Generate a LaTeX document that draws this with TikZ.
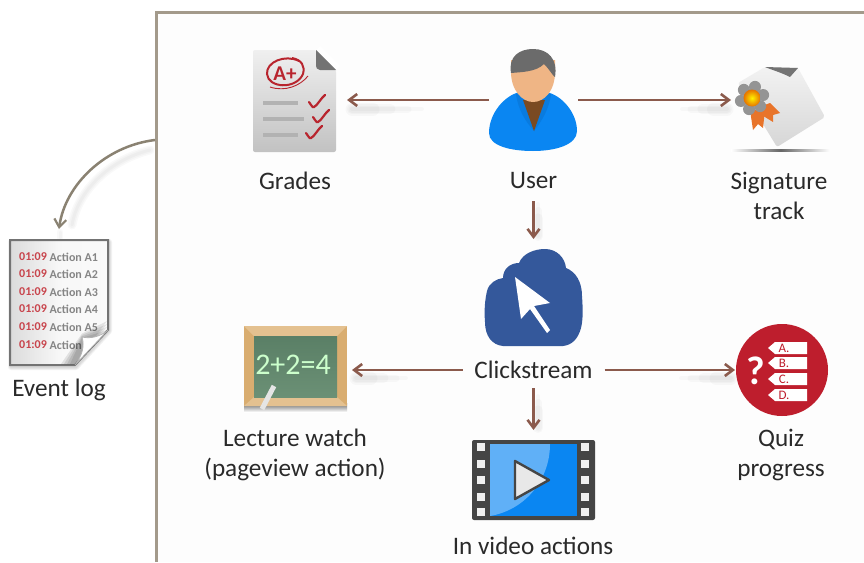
\documentclass[tikz,border=0pt]{standalone}
\usepackage{fontspec}
\setmainfont{Carlito}
\usetikzlibrary{arrows.meta}
\definecolor{framec}{HTML}{A39A8B}
\definecolor{arrowc}{HTML}{8B5A4C}
\definecolor{logarrow}{HTML}{8A8272}
\definecolor{txt}{HTML}{2A2A2A}
\definecolor{ublue}{HTML}{0A86F2}
\definecolor{cloudc}{HTML}{34589B}
\definecolor{quizred}{HTML}{BE1E2D}
\definecolor{markred}{HTML}{B8252E}
\definecolor{ribbon}{HTML}{E8742A}
\definecolor{facec}{HTML}{EFB585}
\definecolor{shirtc}{HTML}{7A4A22}
\definecolor{woodc}{HTML}{D9AD70}
\definecolor{woodl}{HTML}{E4C190}
\definecolor{boardt}{HTML}{5A7F66}
\definecolor{boardb}{HTML}{6B9075}
\definecolor{logred}{HTML}{C8444C}
\tikzset{
  iconbox/.style={inner sep=0pt,outer sep=0pt,minimum width=#1},
  lbl/.style={font=\fontsize{25.2}{30}\selectfont,text=txt,align=center,inner sep=0pt,outer sep=0pt},
  flow/.style={draw=arrowc,line width=2.9pt,-{Straight Barb[length=8pt,width=12pt,line width=2.6pt]}},
  soft/.style={draw=black,opacity=.022,line width=#1,line cap=round},
  logtext/.style={font=\fontsize{12}{13}\selectfont\bfseries,inner sep=0pt,anchor=west},
  tagtext/.style={font=\fontsize{13}{14}\selectfont,text=quizred,inner sep=0pt},
  sprocket/.style={fill=gray!12}
}
\newcommand{\softH}[3]{% tip x, y, direction*length
  \foreach \w/\f in {4pt/1,7pt/.8,10pt/.55,13pt/.3}{
    \draw[soft=\w] (#1,#2) -- ++(#3*\f,0);
  }}
\newcommand{\softV}[3]{%
  \foreach \w/\f in {4pt/1,7pt/.8,10pt/.55}{
    \draw[soft=\w] (#1,#2) -- ++(0,#3*\f);
  }}
\begin{document}
\begin{tikzpicture}[x=1pt,y=-1pt]
\useasboundingbox (0,0) rectangle (864,562);
\fill[white] (0,0) rectangle (864,562);
\fill[black!.6] (156,12) rectangle (864,562);

% ---------- invisible anchors of the icons
\node[iconbox=104pt,minimum height=104pt] (grades) at (295,100) {};
\node[iconbox=89pt,minimum height=104pt] (user) at (533.5,100) {};
\node[iconbox=98pt,minimum height=90pt] (sign) at (780,100) {};
\node[iconbox=100pt,minimum height=116pt] (cloud) at (533.5,297) {};
\node[iconbox=112pt,minimum height=90pt] (board) at (296,370) {};
\node[iconbox=94pt,minimum height=94pt] (quiz) at (782,370) {};
\node[iconbox=124pt,minimum height=100pt] (video) at (533.5,480) {};
\node[iconbox=100pt,minimum height=146pt] (eventdoc) at (59,302) {};
\coordinate (framepoint) at (155,140);

% ---------- soft shadows
\softH{352}{109}{70}
\softH{727}{109}{-45}
\softH{356}{378}{50}
\softH{731}{378}{-50}
\softV{538}{236}{-32}
\softV{538}{428}{-32}
\foreach \w in {3pt,6pt,9pt}{
  \draw[soft=\w] (72,225) .. controls (78,190) and (110,160) .. (150,150);
}
\foreach \w in {3pt,6pt}{
  \draw[soft=\w] (60,238) -- (60,232);
}

% ---------- frame
\draw[framec,line width=3pt] (864,12) -- (156,12) -- (156,562);

% ---------- event log icon
\foreach \w in {2pt,4pt,6pt}{
  \draw[black,opacity=.05,line width=\w,line join=round] (11,242) -- (109,242) -- (109,331) -- (76,367) -- (11,367) -- cycle;
}
\path[draw=black!55,line width=2pt,left color=black!14,right color=black!2,middle color=black!3]
  (10,240) -- (108,240) -- (108,330) -- (75,365) -- (10,365) -- cycle;
\foreach \n/\yy/\tl in {1/257/Action A1,2/274/Action A2,3/292/Action A3,4/309/Action A4,5/327/Action A5,6/345/Action}{
  \node[logtext,text=logred] (t\n) at (19,\yy) {01:09};
  \node[logtext,text=black!48] (a\n) at (49.5,\yy) {\tl};
}
\foreach \s in {0,3,6,9}{
  \fill[black,opacity=.09] (107,330-\s) -- (82,338-\s/2) -- (70-\s,364) -- (75,364) -- cycle;
}
\path[fill=white,draw=black!30,line width=.7pt] (108,330) .. controls (100,337) and (90,339) .. (82,337)
  .. controls (85,346) and (82,356) .. (75,365) -- cycle;

% ---------- grades icon
\path[top color=black!6,bottom color=black!24,rounded corners=2pt]
  (253,50) -- (316,50) -- (336,70) -- (336,152) -- (253,152) -- cycle;
\fill[white] (316,50) -- (336,70) -- (340,66) -- (320,46) -- cycle;
\fill[black!55] (316,50) -- (336,70) -- (320,70) .. controls (317,70) and (316,68) .. (316,64) -- cycle;
\draw[markred,line width=2pt] (299,61) .. controls (285,54) and (266,62) .. (267,74)
  .. controls (268,88) and (296,90) .. (303,74) .. controls (305,66) and (302,60) .. (292,58);
\draw[markred,line width=.9pt] (270,87) .. controls (285,92) and (300,86) .. (308,76);
\node[font=\fontsize{21}{22}\selectfont\bfseries,text=markred,inner sep=0pt] (aplus) at (285,74) {A+};
\foreach \yy/\xe in {103/298,119/304,135/298}{
  \draw[black!30,line width=3.4pt] (263,\yy) -- (\xe,\yy);
}
\foreach \xx/\yy in {309/102,313/117,306/133}{
  \draw[markred,line width=2.2pt,line cap=round] (\xx,\yy) .. controls (\xx+2,\yy+2) and (\xx+3,\yy+6) .. (\xx+5,\yy+5)
    .. controls (\xx+8,\yy+4) and (\xx+12,\yy-4) .. (\xx+16,\yy-7);
}

% ---------- user icon
\fill[ublue] (489,133) .. controls (489,113) and (505,95) .. (520,92) -- (546,92)
  .. controls (562,95) and (577,113) .. (577,131) .. controls (577,145) and (555,151) .. (533,151)
  .. controls (511,151) and (489,146) .. (489,133) -- cycle;
\fill[ublue!92!black] (516,94) -- (551,94) .. controls (549,110) and (541,122) .. (534,131) .. controls (526,122) and (518,110) .. (516,94) -- cycle;
\fill[shirtc] (523,100) -- (545,100) -- (534,131) -- cycle;
\fill[facec] (511,72) .. controls (511,90) and (522,102) .. (533,102)
  .. controls (545,102) and (555,90) .. (555,72) -- (555,60) -- (511,60) -- cycle;
\fill[black!58] (511,73) .. controls (508,56) and (520,49) .. (533,49) .. controls (548,49) and (558,59) .. (555,77)
  .. controls (552,75) and (550,70) .. (544,64) .. controls (536,72) and (522,72) .. (511,73) -- cycle;

% ---------- signature icon
\shade[left color=white,right color=white,middle color=black!60] (731,149) rectangle (830,151.5);
\path[top color=black!5,bottom color=black!16,rounded corners=2pt]
  (765,67) -- (798,68) -- (825,117) -- (777,147) -- (738,83) -- cycle;
\fill[black!55] (765,67) -- (798,68) -- (790,77) .. controls (780,72) and (772,70) .. (765,67) -- cycle;
\fill[ribbon] (750,110) -- (753,130) -- (758,124) -- (763,128) -- (765,110) -- cycle;
\fill[ribbon] (762,106) -- (770,103) -- (780,113) -- (773,115) -- (773,122) -- (760,114) -- cycle;
\foreach \ang in {0,60,120,180,240,300}{
  \fill[black!42] (752,98) ++(\ang+15:11.5pt) circle (6pt);
}
\shade[inner color=yellow!90!orange,outer color=orange!90!black] (752,98) circle (8.5pt);

% ---------- cloud icon
\fill[cloudc] (503,346) .. controls (492,345) and (485,336) .. (485,322)
  .. controls (484,310) and (485,300) .. (487,291) .. controls (489,283) and (496,279) .. (503,278)
  .. controls (503,269) and (510,263) .. (519,263)
  .. controls (523,253) and (535,249) .. (545,249)
  .. controls (557,249) and (565,258) .. (566,268)
  .. controls (576,272) and (582,282) .. (582,296)
  .. controls (583,310) and (583,320) .. (581,328) .. controls (578,339) and (572,345) .. (563,346) -- cycle;
\fill[white] (515,277) -- (550,303) -- (534,306) -- (550,330) -- (547,333) -- (530,309) -- (521,319) -- cycle;

% ---------- chalkboard icon
\shade[top color=black!60,bottom color=white] (244,403) rectangle (347,412);
\fill[woodc] (244,326) rectangle (347,406);
\fill[woodl] (244,326) -- (347,326) -- (337,336) -- (254,336) -- cycle;
\fill[woodl] (244,406) -- (347,406) -- (337,397) -- (254,397) -- cycle;
\path[top color=boardt,bottom color=boardb] (254,336) rectangle (337,397);
\node[font=\fontsize{30}{31}\selectfont,text=white!80!green,inner sep=0pt] (sum) at (293,365) {2+2=4};
\draw[black!10,line width=5pt] (274,386) -- (262,409);

% ---------- quiz icon
\fill[quizred] (782,370) circle (46pt);
\node[font=\fontsize{40}{42}\selectfont\bfseries,text=white,inner sep=0pt] (qmark) at (756,371) {?};
\foreach \yy/\ll in {348/A.,363/B.,379/C.,395/D.}{
  \fill[white] (768,\yy) -- (775,\yy-6) -- (807,\yy-6) -- (807,\yy+6) -- (775,\yy+6) -- cycle;
  \node[tagtext] (q\ll) at (784,\yy) {\ll};
}

% ---------- video icon
\fill[black!73,rounded corners=2pt] (472,440) rectangle (595,520);
\fill[ublue] (490,444) rectangle (577,516);
\fill[ublue!65!white] (490,444) -- (550,444) .. controls (550,480) and (525,510) .. (490,516) -- cycle;
\foreach \yy in {447,464,480,497,512}{
  \fill[sprocket] (477,\yy-4) rectangle (485,\yy+4);
  \fill[sprocket] (581,\yy-4) rectangle (589,\yy+4);
}
\path[fill=black!9,draw=black!73,line width=2.4pt,line join=round] (515,461) -- (549,480) -- (515,499) -- cycle;

% ---------- labels
\node[lbl] (eventlabel) at (59,390) {Event log};
\node[lbl] (gradeslabel) at (295,181) {Grades};
\node[lbl,minimum height=40pt] (userlabel) at (533.5,181) {User};
\node[lbl] (signlabel) at (779,196) {Signature\\track};
\node[lbl,minimum width=142pt,minimum height=36pt] (click) at (533.5,370) {Clickstream};
\node[lbl] (lecturelabel) at (295,454.5) {Lecture watch\\(pageview action)};
\node[lbl] (videolabel) at (533,546) {In video actions};
\node[lbl] (quizlabel) at (781,454.5) {Quiz\\progress};

% ---------- connectors
\draw[flow] (user.west) -- (grades.east);
\draw[flow] (user.east) -- (sign.west);
\draw[flow] (userlabel.south) -- (cloud.north);
\draw[flow] (click.west) -- (board.east);
\draw[flow] (click.east) -- (quiz.west);
\draw[flow] (click.south) -- (video.north);
\draw[draw=logarrow,line width=2.5pt,-{Straight Barb[length=8pt,width=12pt,line width=2.2pt]}]
  (framepoint) .. controls (105,146) and (65,185) .. (eventdoc.north);
\end{tikzpicture}
\end{document}
